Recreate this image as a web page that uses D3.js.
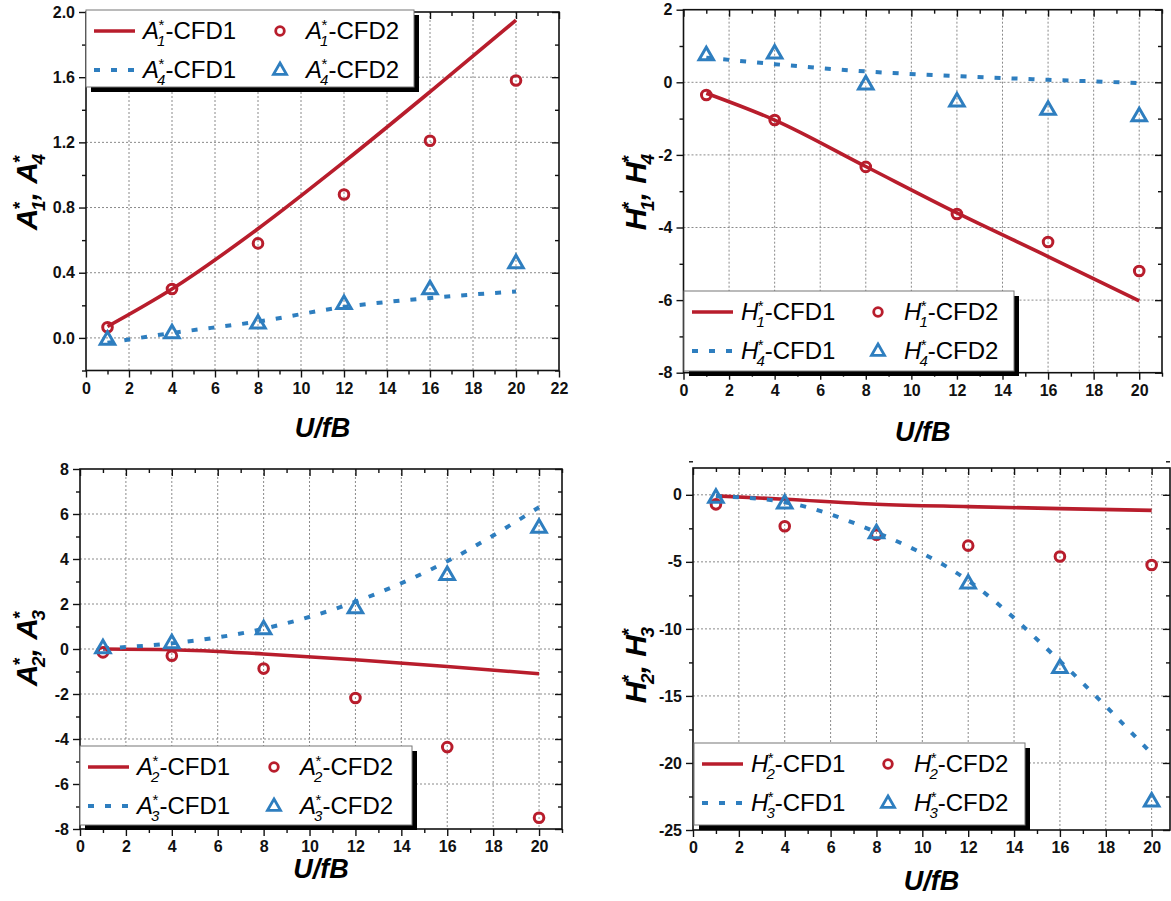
<!DOCTYPE html>
<html>
<head>
<meta charset="utf-8">
<script src="https://cdn.jsdelivr.net/npm/d3@7"></script>
<style>
html,body{margin:0;padding:0;background:#fff;}
svg{display:block;}
text{font-family:"Liberation Sans",Arial,sans-serif;}
</style>
</head>
<body>
<svg id="chart" width="1171" height="901"></svg>
<script>
// ---------------- DATA ----------------
const xPts = [1, 4, 8, 12, 16, 20];

const A1_cfd1 = [0.07, 0.30, 0.67, 1.08, 1.51, 1.95];
const A1_cfd2 = [0.065, 0.30, 0.58, 0.88, 1.21, 1.58];
const A4_cfd1 = [-0.03, 0.03, 0.10, 0.19, 0.245, 0.285];
const A4_cfd2 = [-0.01, 0.03, 0.09, 0.21, 0.30, 0.46];

const H1_cfd1 = [-0.30, -1.04, -2.32, -3.60, -4.80, -6.02];
const H1_cfd2 = [-0.35, -1.04, -2.33, -3.63, -4.40, -5.20];
const H4_cfd1 = [0.68, 0.50, 0.30, 0.17, 0.07, -0.02];
const H4_cfd2 = [0.75, 0.80, -0.05, -0.52, -0.75, -0.93];

const A2_cfd1 = [0.00, -0.03, -0.22, -0.48, -0.78, -1.10];
const A2_cfd2 = [-0.15, -0.30, -0.87, -2.18, -4.36, -7.50];
const A3_cfd1 = [0.03, 0.25, 0.90, 2.10, 3.90, 6.30];
const A3_cfd2 = [0.04, 0.27, 0.89, 1.82, 3.30, 5.40];

const H2_cfd1 = [-0.08, -0.33, -0.70, -0.88, -1.03, -1.16];
const H2_cfd2 = [-0.71, -2.35, -2.98, -3.79, -4.60, -5.23];
const H3_cfd1 = [-0.10, -0.55, -2.80, -6.40, -12.40, -19.30];
const H3_cfd2 = [-0.20, -0.63, -2.85, -6.60, -12.90, -22.85];

const xTicksA = [0, 2, 4, 6, 8, 10, 12, 14, 16, 18, 20, 22];
const xTicksB = [0, 2, 4, 6, 8, 10, 12, 14, 16, 18, 20];
const yTicks1 = [0.0, 0.4, 0.8, 1.2, 1.6, 2.0];
const yTicks2 = [-8, -6, -4, -2, 0, 2];
const yTicks3 = [-8, -6, -4, -2, 0, 2, 4, 6, 8];
const yTicks4 = [-25, -20, -15, -10, -5, 0];

// ---------------- STYLE ----------------
const RED = "#b81d2c";
const BLUE = "#2e7ebf";
const FONT = '"Liberation Sans", Arial, sans-serif';
const hyph = f => (v => f(v).replace("\u2212", "-"));

const panels = [
  { box: [86, 12, 559, 370.5], xd: [0, 22], yd: [-0.2, 2.0], xt: xTicksA, xminor: 1,
    yt: yTicks1, yminor: 0.2, yfmt: hyph(d3.format(".1f")), letter: "A", s1: "1", s2: "4",
    solid: A1_cfd1, circ: A1_cfd2, dot: A4_cfd1, tri: A4_cfd2,
    leg: [86, 10, 328, 77], ylab: [37, 192], xlab: 437 },
  { box: [683.5, 9.7, 1162, 372.7], xd: [0, 21], yd: [-8, 2], xt: xTicksB, xminor: 1,
    yt: yTicks2, yminor: 1, yfmt: hyph(d3.format("d")), letter: "H", s1: "1", s2: "4",
    solid: H1_cfd1, circ: H1_cfd2, dot: H4_cfd1, tri: H4_cfd2,
    leg: [684, 291, 330, 80], ylab: [646, 192], xlab: 441 },
  { box: [80, 469, 562, 829], xd: [0, 21], yd: [-8, 8], xt: xTicksB, xminor: 1,
    yt: yTicks3, yminor: 1, yfmt: hyph(d3.format("d")), letter: "A", s1: "2", s2: "3",
    solid: A2_cfd1, circ: A2_cfd2, dot: A3_cfd1, tri: A3_cfd2,
    leg: [80, 746, 332, 79], ylab: [37, 648], xlab: 878 },
  { box: [693, 468, 1170, 830], xd: [0, 20.8], yd: [-25, 2], xt: xTicksB, xminor: 1,
    yt: yTicks4, yminor: 2.5, yfmt: hyph(d3.format("d")), letter: "H", s1: "2", s2: "3",
    solid: H2_cfd1, circ: H2_cfd2, dot: H3_cfd1, tri: H3_cfd2,
    leg: [694, 743, 331, 82], ylab: [646, 665], xlab: 890 }
];

const svg = d3.select("#chart");

function range(a, b, step) {
  const out = [];
  const n = Math.round((b - a) / step);
  for (let i = 0; i <= n; i++) out.push(+(a + i * step).toFixed(6));
  return out;
}

// label like  A*_1-CFD1 : italic letter, stacked sup * and sub digit, then rest
function compLabel(g, x, y, letter, sub, rest, size, opts) {
  opts = opts || {};
  const weight = opts.bold ? "bold" : "normal";
  const t1 = g.append("text").attr("x", x).attr("y", y)
    .style("font-family", FONT).style("font-size", size + "px")
    .style("font-style", "italic").style("font-weight", weight).text(letter);
  const w1 = t1.node().getComputedTextLength();
  const ss = Math.round(size * 0.62);
  const sup = g.append("text").attr("x", x + w1 - size * 0.02).attr("y", y - size * 0.36)
    .style("font-family", FONT).style("font-size", ss + "px")
    .style("font-weight", weight).text("*");
  const sb = g.append("text").attr("x", x + w1 - size * 0.08).attr("y", y + size * 0.28)
    .style("font-family", FONT).style("font-size", ss + "px")
    .style("font-style", "italic").style("font-weight", weight).text(sub);
  const w2 = Math.max(sup.node().getComputedTextLength() - size * 0.02, sb.node().getComputedTextLength() - size * 0.08);
  let w = w1 + w2;
  if (rest) {
    const t3 = g.append("text").attr("x", x + w).attr("y", y)
      .style("font-family", FONT).style("font-size", size + "px")
      .style("font-style", opts.restItalic ? "italic" : "normal")
      .style("white-space", "pre")
      .style("font-weight", weight).text(rest);
    w += t3.node().getComputedTextLength();
  }
  return w;
}

function triPath(cx, cy, s) {
  const h = s * 0.866;
  return `M${cx},${cy - h * 0.62}L${cx + s / 2},${cy + h * 0.38}L${cx - s / 2},${cy + h * 0.38}Z`;
}

panels.forEach(p => {
  const [L, T, R, B] = p.box;
  const x = d3.scaleLinear().domain(p.xd).range([L, R]);
  const y = d3.scaleLinear().domain(p.yd).range([B, T]);
  const g = svg.append("g");

  // grid
  const gx = p.xt.filter(v => v > p.xd[0] && v < p.xd[1]);
  const gy = p.yt.filter(v => v > p.yd[0] && v < p.yd[1]);
  g.append("g").selectAll("line").data(gx).join("line")
    .attr("x1", d => x(d)).attr("x2", d => x(d)).attr("y1", T).attr("y2", B)
    .attr("stroke", "#8a8a8a").attr("stroke-width", 1).attr("stroke-dasharray", "2,2");
  g.append("g").selectAll("line").data(gy).join("line")
    .attr("x1", L).attr("x2", R).attr("y1", d => y(d)).attr("y2", d => y(d))
    .attr("stroke", "#8a8a8a").attr("stroke-width", 1).attr("stroke-dasharray", "2,2");

  // axes with d3 axis generators (major + minor)
  const xMinor = range(p.xd[0], Math.floor(p.xd[1]), p.xminor).filter(v => !p.xt.includes(v));
  const yMinor = range(p.yd[0], p.yd[1], p.yminor).filter(v => !p.yt.some(t => Math.abs(t - v) < 1e-6));

  const styleAxis = sel => {
    sel.select(".domain").remove();
    sel.selectAll(".tick line").attr("stroke", "#111").attr("stroke-width", 1.4);
    sel.selectAll(".tick text").style("font-family", FONT).style("font-size", "16px")
      .style("font-weight", "bold").attr("fill", "#111");
  };
  // bottom
  g.append("g").attr("transform", `translate(0,${B})`)
    .call(d3.axisBottom(x).tickValues(p.xt).tickSize(7).tickPadding(5).tickFormat(d3.format("d"))).call(styleAxis);
  g.append("g").attr("transform", `translate(0,${B})`)
    .call(d3.axisBottom(x).tickValues(xMinor).tickSize(4).tickFormat("")).call(styleAxis);
  // top (inward)
  g.append("g").attr("transform", `translate(0,${T})`)
    .call(d3.axisBottom(x).tickValues(p.xt.filter(v => v <= p.xd[1])).tickSize(7).tickFormat("")).call(styleAxis);
  g.append("g").attr("transform", `translate(0,${T})`)
    .call(d3.axisBottom(x).tickValues(xMinor).tickSize(4).tickFormat("")).call(styleAxis);
  // left
  g.append("g").attr("transform", `translate(${L},0)`)
    .call(d3.axisLeft(y).tickValues(p.yt).tickSize(7).tickPadding(4).tickFormat(p.yfmt)).call(styleAxis);
  g.append("g").attr("transform", `translate(${L},0)`)
    .call(d3.axisLeft(y).tickValues(yMinor).tickSize(4).tickFormat("")).call(styleAxis);
  // right (inward)
  g.append("g").attr("transform", `translate(${R},0)`)
    .call(d3.axisLeft(y).tickValues(p.yt).tickSize(7).tickFormat("")).call(styleAxis);
  g.append("g").attr("transform", `translate(${R},0)`)
    .call(d3.axisLeft(y).tickValues(yMinor).tickSize(4).tickFormat("")).call(styleAxis);

  // frame
  g.append("rect").attr("x", L).attr("y", T).attr("width", R - L).attr("height", B - T)
    .attr("fill", "none").attr("stroke", "#111").attr("stroke-width", 1.6);

  // lines
  const line = d3.line().x((d, i) => x(xPts[i])).y(d => y(d)).curve(d3.curveMonotoneX);
  g.append("path").attr("d", line(p.solid)).attr("fill", "none")
    .attr("stroke", RED).attr("stroke-width", 3.6);
  g.append("path").attr("d", line(p.dot)).attr("fill", "none")
    .attr("stroke", BLUE).attr("stroke-width", 4).attr("stroke-dasharray", "6,11");

  // markers
  g.append("g").selectAll("circle").data(p.circ).join("circle")
    .attr("cx", (d, i) => x(xPts[i])).attr("cy", d => y(d)).attr("r", 4.8)
    .attr("fill", "none").attr("stroke", RED).attr("stroke-width", 3);
  g.append("g").selectAll("path").data(p.tri).join("path")
    .attr("d", (d, i) => triPath(x(xPts[i]), y(d), 14.5))
    .attr("fill", "none").attr("stroke", BLUE).attr("stroke-width", 3).attr("stroke-linejoin", "miter");

  // legend
  const [lx, ly, lw, lh] = p.leg;
  const lg = svg.append("g");
  lg.append("rect").attr("x", lx + 5).attr("y", ly + 5).attr("width", lw).attr("height", lh).attr("fill", "#000");
  lg.append("rect").attr("x", lx).attr("y", ly).attr("width", lw).attr("height", lh)
    .attr("fill", "#fff").attr("stroke", "#777").attr("stroke-width", 1);
  const r1 = ly + 21, r2 = ly + 60;
  lg.append("line").attr("x1", lx + 8).attr("x2", lx + 49).attr("y1", r1).attr("y2", r1)
    .attr("stroke", RED).attr("stroke-width", 3.6);
  lg.append("line").attr("x1", lx + 8).attr("x2", lx + 49).attr("y1", r2).attr("y2", r2)
    .attr("stroke", BLUE).attr("stroke-width", 4).attr("stroke-dasharray", "6,11");
  lg.append("circle").attr("cx", lx + 194).attr("cy", r1).attr("r", 4.3)
    .attr("fill", "none").attr("stroke", RED).attr("stroke-width", 2.8);
  lg.append("path").attr("d", triPath(lx + 194, r2, 13))
    .attr("fill", "none").attr("stroke", BLUE).attr("stroke-width", 2.8);
  compLabel(lg, lx + 57, r1 + 8, p.letter, p.s1, "-CFD1", 24);
  compLabel(lg, lx + 57, r2 + 8, p.letter, p.s2, "-CFD1", 24);
  compLabel(lg, lx + 220, r1 + 8, p.letter, p.s1, "-CFD2", 24);
  compLabel(lg, lx + 220, r2 + 8, p.letter, p.s2, "-CFD2", 24);

  // x label
  svg.append("text").attr("x", (L + R) / 2).attr("y", p.xlab).attr("text-anchor", "middle")
    .style("font-family", FONT).style("font-size", "27px").style("font-weight", "bold")
    .style("font-style", "italic").text("U/fB");

  // y label (rotated)
  const yg = svg.append("g").attr("transform", `translate(${p.ylab[0]},${p.ylab[1]}) rotate(-90)`);
  const inner = yg.append("g");
  let w = compLabel(inner, 0, 0, p.letter, p.s1, ",\u00a0", 30, { bold: true, restItalic: true });
  w += compLabel(inner, w, 0, p.letter, p.s2, "", 30, { bold: true });
  inner.attr("transform", `translate(${-w / 2},0)`);
});
</script>
</body>
</html>
